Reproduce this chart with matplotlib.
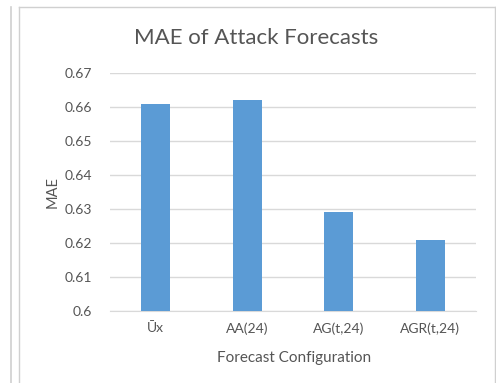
import matplotlib.pyplot as plt
from matplotlib.lines import Line2D
import numpy as np

plt.rcParams["font.family"] = ["Lato", "DejaVu Sans"]

configs = ["Ūx", "AA(24)", "AG(t,24)", "AGR(t,24)"]
mae = [0.661, 0.662, 0.629, 0.621]
y_ticks = [0.6, 0.61, 0.62, 0.63, 0.64, 0.65, 0.66, 0.67]
y_tick_labels = ["0.6", "0.61", "0.62", "0.63", "0.64", "0.65", "0.66", "0.67"]

TEXT = "#555555"
GRID = "#d9d9d9"
BAR = "#5b9bd5"

W, H = 496, 383
fig = plt.figure(figsize=(W / 100, H / 100), dpi=100)
fig.patch.set_facecolor("white")

# chart frame and neighbouring panel edge
fig.add_artist(Line2D([11 / W, 11 / W], [0, 1 - 7 / H], color="#d0d0d0", lw=1.2))
fig.add_artist(Line2D([19 / W, 19 / W], [0, 1 - 7 / H], color="#d0d0d0", lw=1.0))
fig.add_artist(Line2D([19 / W, 495 / W], [1 - 7 / H, 1 - 7 / H], color="#d0d0d0", lw=1.0))
fig.add_artist(Line2D([495 / W, 495 / W], [0, 1 - 7 / H], color="#d0d0d0", lw=1.0))

left, right, top, bottom = 110, 476, 73, 311
ax = fig.add_axes([left / W, 1 - bottom / H, (right - left) / W, (bottom - top) / H])

x = np.arange(len(configs))
ax.bar(x, mae, width=0.32, color=BAR, zorder=3)
ax.set_xlim(-0.5, len(configs) - 0.5)
ax.set_ylim(0.6, 0.67)
ax.set_yticks(y_ticks, y_tick_labels)
ax.set_xticks(x, configs)
ax.grid(True, axis="y", color=GRID, lw=1.0, zorder=0)
for side in ["top", "right", "left"]:
    ax.spines[side].set_visible(False)
ax.spines["bottom"].set_color(GRID)
ax.tick_params(axis="both", length=0, colors=TEXT, labelsize=10)
ax.tick_params(axis="y", pad=13)
ax.tick_params(axis="x", pad=8)

fig.text(256 / W, 1 - 38 / H, "MAE of Attack Forecasts", ha="center", va="center",
         fontsize=16, color=TEXT)
fig.text(294 / W, 1 - 358 / H, "Forecast Configuration", ha="center", va="center",
         fontsize=11, color=TEXT)
fig.text(53 / W, 1 - 192 / H, "MAE", ha="center", va="center", rotation=90,
         fontsize=10.5, color=TEXT)

fig.savefig("out.png", dpi=100)
